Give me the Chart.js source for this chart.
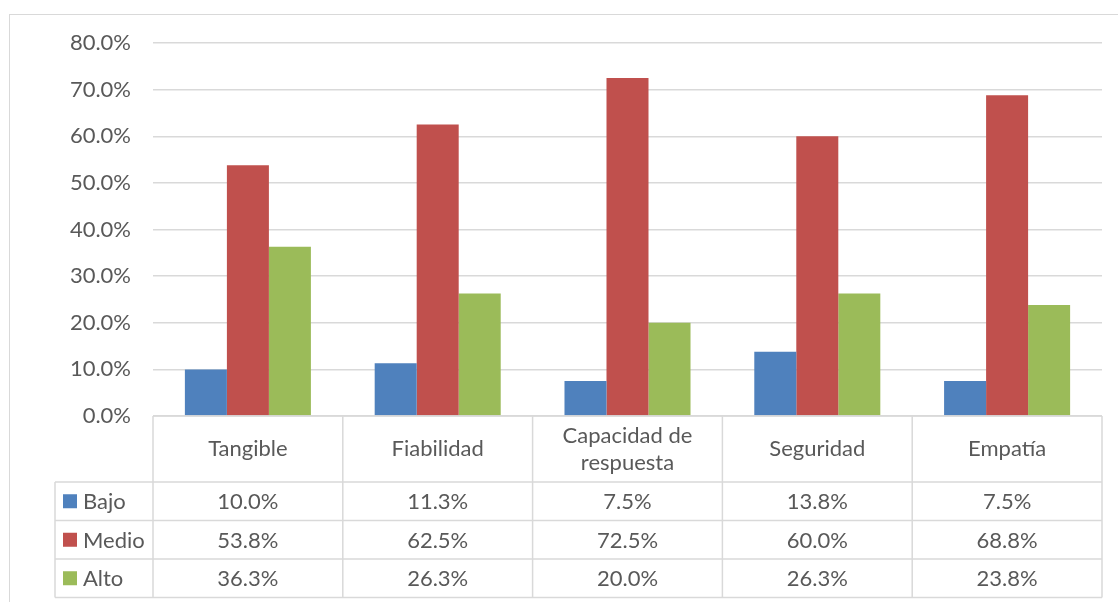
<!DOCTYPE html>
<html>
<head>
<meta charset="utf-8">
<script src="https://cdn.jsdelivr.net/npm/chart.js@4"></script>
<style>
  html, body { margin: 0; padding: 0; background: #fff; overflow: hidden; }
  #frame { position: absolute; left: 9px; top: 14px; width: 1130px; height: 620px; border: 1px solid #d9d9d9; }
  canvas { position: absolute; left: 0; top: 0; }
</style>
</head>
<body>
<div id="frame"></div>
<canvas id="chart" width="1118" height="602"></canvas>
<script>
// categories and series (percent)
const categories = ['Tangible', 'Fiabilidad', ['Capacidad de', 'respuesta'], 'Seguridad', 'Empatía'];
const bajo = [10.0, 11.3, 7.5, 13.8, 7.5];
const medio = [53.8, 62.5, 72.5, 60.0, 68.8];
const alto = [36.3, 26.3, 20.0, 26.3, 23.8];
const seriesNames = ['Bajo', 'Medio', 'Alto'];
const yTicks = [0, 10, 20, 30, 40, 50, 60, 70, 80];

const colors = ['#4f81bd', '#c0504d', '#9bbb59'];
const textColor = '#595959';
const lineColor = '#d9d9d9';
const fontFamily = 'Lato, "Noto Sans", sans-serif';
const fontSize = 22;

// draws the Excel-like data table under the plot
const dataTable = {
    id: 'dataTable',
    afterDraw(chart) {
        const ctx = chart.ctx;
        const area = chart.chartArea;
        const n = categories.length;
        const colW = (area.right - area.left) / n;
        const legendLeft = 55;
        const headerBottom = area.bottom + 66;
        const rowH = 38.5;
        const rows = [bajo, medio, alto];
        const tableBottom = headerBottom + rowH * rows.length;

        ctx.save();
        ctx.strokeStyle = lineColor;
        ctx.lineWidth = 1.5;
        ctx.beginPath();
        ctx.moveTo(area.left, area.bottom);
        ctx.lineTo(area.right, area.bottom);
        for (let r = 0; r <= rows.length; r++) {
            const y = headerBottom + r * rowH;
            ctx.moveTo(legendLeft, y);
            ctx.lineTo(area.right, y);
        }
        for (let i = 0; i <= n; i++) {
            const x = area.left + i * colW;
            ctx.moveTo(x, area.bottom);
            ctx.lineTo(x, tableBottom);
        }
        ctx.moveTo(legendLeft, headerBottom);
        ctx.lineTo(legendLeft, tableBottom);
        ctx.stroke();

        ctx.fillStyle = textColor;
        ctx.font = fontSize + 'px ' + fontFamily;
        ctx.textAlign = 'center';
        ctx.textBaseline = 'middle';
        const xs = chart.scales.x;
        categories.forEach((c, i) => {
            const cx = xs.getPixelForValue(i);
            const lines = Array.isArray(c) ? c : [c];
            const mid = (area.bottom + headerBottom) / 2;
            const lh = 27;
            lines.forEach((t, k) => {
                ctx.fillText(t, cx, mid + (k - (lines.length - 1) / 2) * lh);
            });
        });

        rows.forEach((vals, r) => {
            const cy = headerBottom + r * rowH + rowH / 2;
            ctx.fillStyle = colors[r];
            ctx.fillRect(legendLeft + 8, cy - 7, 14, 14);
            ctx.fillStyle = textColor;
            ctx.textAlign = 'left';
            ctx.fillText(seriesNames[r], legendLeft + 28, cy + 1);
            ctx.textAlign = 'center';
            vals.forEach((v, i) => {
                ctx.fillText(v.toFixed(1) + '%', xs.getPixelForValue(i), cy + 1);
            });
        });
        ctx.restore();
    }
};

const ctx = document.getElementById('chart').getContext('2d');
new Chart(ctx, {
    type: 'bar',
    data: {
        labels: categories,
        datasets: [
            { label: seriesNames[0], data: bajo, backgroundColor: colors[0] },
            { label: seriesNames[1], data: medio, backgroundColor: colors[1] },
            { label: seriesNames[2], data: alto, backgroundColor: colors[2] }
        ]
    },
    options: {
        responsive: false,
        animation: false,
        devicePixelRatio: 1,
        layout: { padding: { left: 0, top: 43, right: 16, bottom: 186 } },
        datasets: { bar: { barPercentage: 1, categoryPercentage: 0.664 } },
        plugins: { legend: { display: false }, tooltip: { enabled: false } },
        scales: {
            x: { display: false },
            y: {
                min: 0,
                max: 80,
                afterFit: (scale) => { scale.width = 153; },
                afterBuildTicks: (scale) => { scale.ticks = yTicks.map(v => ({ value: v })); },
                border: { display: false },
                grid: { color: lineColor, lineWidth: 1.5, drawTicks: false },
                ticks: {
                    padding: 22,
                    color: textColor,
                    font: { family: fontFamily, size: fontSize },
                    callback: (v) => v.toFixed(1) + '%'
                }
            }
        }
    },
    plugins: [dataTable]
});
</script>
</body>
</html>
